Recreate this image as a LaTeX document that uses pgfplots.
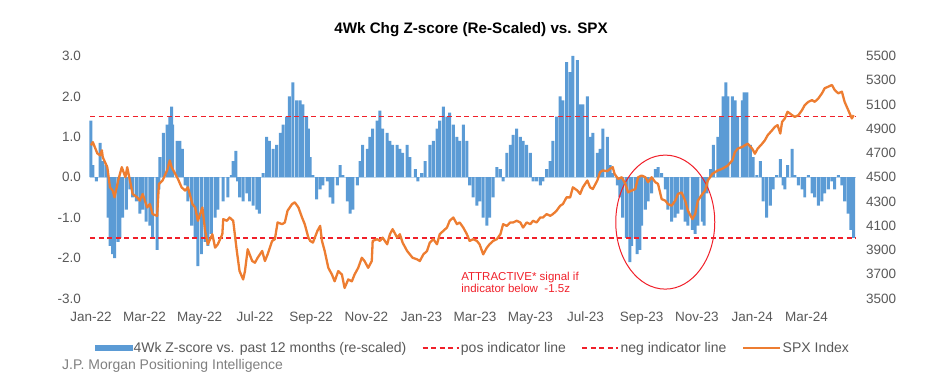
\documentclass[border=0pt]{standalone}
\usepackage{fontspec}
\setmainfont{Liberation Sans}
\usepackage{pgfplots}
\pgfplotsset{compat=1.18}
\usepackage{pgfplotstable}
\definecolor{zblue}{HTML}{5B9BD5}
\definecolor{spxorange}{HTML}{ED7D31}
\definecolor{indred}{HTML}{F0202A}
\definecolor{txtgray}{HTML}{595959}
\definecolor{srcgray}{HTML}{7F7F7F}
\pgfplotsset{
  barlegend/.style={legend image code/.code={\fill[zblue] (0pt,-2.6pt) rectangle (37pt,2.6pt);}},
  dashlegend/.style={legend image code/.code={\draw[color=indred, line width=1.6pt, dash pattern=on 5pt off 3.5pt] (0pt,0pt) -- (36pt,0pt);}},
  spxlegend/.style={legend image code/.code={\draw[color=spxorange, line width=2.3pt] (0pt,0pt) -- (37pt,0pt);}},
}

\pgfplotstableread{
d z
0 1.4
2 0.3
6 -0.1
10 0.85
13 0.4
17 0.3
19 -1.0
21 -1.7
24 -1.9
26 -2.0
30 -1.6
32 -1.5
35 -1.0
39 -0.8
43 -0.3
46 -0.5
50 -0.6
54 -0.9
57 -0.8
61 -1.1
65 -1.2
68 -1.5
73 -1.8
75 -0.3
76 0.5
80 1.1
84 1.3
87 1.5
89 1.75
90 1.3
95 0.9
98 0.9
101 0.7
104 -0.2
107 -0.6
111 -1.2
115 -1.5
118 -2.2
122 -1.9
126 -1.6
129 -1.7
133 -1.4
137 -1.0
140 -0.8
146 -0.6
151 -0.5
155 0.05
157 0.4
160 0.65
162 -0.1
164 -0.5
168 -0.6
172 -0.4
175 -0.6
179 -0.7
183 -0.8
186 -0.9
190 0.1
194 1.0
197 0.9
201 0.7
205 0.8
209 1.1
212 1.3
216 1.5
219 2.0
223 2.35
227 1.9
231 1.9
234 1.8
238 1.5
240 1.2
242 0.5
245 0.05
249 -0.55
253 -0.3
256 -0.2
261 -0.1
264 -0.5
267 -0.65
272 -0.2
275 0.3
278 0.05
283 -0.6
286 -0.9
289 -0.8
294 -0.2
297 0.4
300 0.8
305 0.7
308 1.0
311 1.2
316 1.4
319 1.65
322 1.2
327 1.1
330 0.9
333 0.8
338 0.8
341 0.7
344 0.6
349 0.8
352 0.5
358 0.2
361 -0.1
365 0.1
369 0.4
374 0.8
378 0.9
382 1.2
385 1.4
389 1.75
393 1.5
396 1.6
400 1.3
404 1.0
407 0.9
411 1.3
415 0.9
418 -0.2
422 -0.5
426 -0.7
429 -0.6
433 -1.0
437 -1.2
440 -1.0
444 -0.5
448 0.25
452 0.2
455 -0.1
459 0.6
463 0.8
466 1.05
470 1.2
474 1.0
477 0.9
481 0.8
485 0.6
488 -0.1
492 -0.1
496 -0.2
499 -0.1
503 0.2
507 0.4
510 0.9
514 1.5
518 2.0
521 1.9
525 2.85
529 2.6
532 3.0
537 2.9
540 1.8
543 1.8
548 2.0
551 1.0
554 1.1
559 0.6
562 0.7
565 1.2
570 1.0
573 0.3
576 0.1
581 -0.2
584 -0.5
587 -1.0
591 -1.5
595 -2.1
597 -1.7
601 -1.5
603 -1.9
606 -1.8
608 -1.2
612 -0.8
615 -0.6
619 -0.4
623 0.2
626 0.25
630 0.1
634 -0.3
637 -0.8
641 -1.1
645 -1.0
648 -0.9
652 -0.8
656 -1.1
659 -1.2
664 -1.3
667 -1.4
670 -1.2
675 -1.1
677 -1.2
680 -0.4
684 0.2
687 0.8
692 1.0
695 1.5
698 2.0
701 2.35
703 2.0
708 2.0
711 1.9
714 1.5
719 1.9
721 2.1
724 2.1
728 0.8
731 0.5
735 0.05
739 0.4
742 -0.6
746 -1.0
750 -0.7
753 -0.3
757 0.05
761 0.45
764 -0.2
766 -0.3
769 0.3
774 0.7
777 0.05
781 -0.2
785 -0.3
788 -0.5
792 0.05
796 -0.4
799 -0.5
803 -0.7
807 -0.6
810 -0.4
814 -0.3
818 -0.1
821 -0.3
825 0.05
829 -0.2
832 -0.6
836 -0.9
839 -1.3
842 -1.5
}\zdata

\pgfplotstableread{
d s
0 4763
2 4790
7 4697
10 4680
12 4722
13 4665
18 4583
21 4417
24 4390
26 4334
30 4473
34 4583
38 4500
40 4583
43 4473
46 4362
51 4334
54 4307
57 4362
62 4251
65 4279
68 4196
73 4182
75 4445
79 4473
84 4556
87 4639
89 4583
93 4528
96 4486
100 4417
104 4390
107 4417
112 4279
115 4251
118 4141
123 4251
126 4058
129 3947
134 4030
137 3919
140 3947
145 4030
146 4155
150 4141
153 4168
157 4141
161 3892
164 3726
168 3657
170 3726
173 3906
178 3809
181 3795
184 3836
189 3892
192 3809
195 3864
200 3975
203 3989
206 4127
211 4113
214 4127
217 4224
222 4279
225 4293
229 4251
233 4168
236 4113
240 4002
242 3975
245 3961
250 4058
253 4099
255 3975
258 3892
262 3753
266 3698
269 3642
273 3726
277 3698
280 3587
284 3657
288 3642
291 3698
295 3753
299 3836
302 3809
306 3753
310 3809
311 3975
316 3989
319 3975
322 4002
327 3947
330 4030
333 4072
338 4002
341 4030
344 3961
349 3892
352 3864
355 3836
360 3823
363 3809
367 3864
371 3892
374 3961
378 3989
382 3947
385 4030
389 4058
393 4085
396 4141
400 4168
404 4113
407 4127
411 4085
415 4030
418 3975
422 3989
426 3975
429 3947
433 3864
437 3919
440 3947
444 3975
448 3989
452 4030
455 4113
459 4099
463 4127
466 4127
470 4141
474 4127
477 4085
481 4127
485 4113
488 4141
492 4127
496 4168
499 4168
503 4196
507 4182
510 4196
514 4224
518 4265
521 4279
525 4334
529 4334
532 4417
537 4390
540 4362
543 4417
548 4473
551 4417
554 4403
559 4473
562 4542
565 4556
570 4550
573 4570
576 4583
578 4528
582 4486
586 4500
590 4445
593 4375
597 4390
601 4403
604 4500
608 4514
612 4500
615 4459
619 4500
623 4459
626 4445
630 4320
634 4307
637 4279
641 4265
645 4307
648 4362
652 4375
656 4307
659 4224
664 4155
667 4196
670 4307
675 4362
678 4390
681 4473
686 4528
689 4542
692 4556
697 4570
700 4583
703 4597
708 4639
711 4708
714 4736
719 4750
722 4764
725 4777
730 4736
733 4694
736 4736
741 4777
744 4805
747 4846
752 4888
755 4915
758 4930
761 4860
763 4957
766 4985
769 5040
774 5012
777 4998
781 5012
785 5054
788 5095
792 5122
796 5136
799 5122
803 5150
807 5192
810 5234
814 5247
818 5261
821 5220
825 5192
829 5206
832 5122
836 5054
840 4985
842 5012
}\spxdata

\begin{document}
\begin{tikzpicture}
\path[use as bounding box] (0,0) rectangle (941pt,379pt);
\begin{axis}[
  at={(88pt,80.5pt)}, anchor=south west,
  scale only axis, width=769pt, height=242.5pt,
  xmin=-3.3, xmax=845.7, ymin=-3, ymax=3,
  axis line style={draw=none}, major tick length=0pt,
  xtick={0,59,120,181,243,304,365,424,485,546,608,669,730,790},
  xticklabels={Jan-22,Mar-22,May-22,Jul-22,Sep-22,Nov-22,Jan-23,Mar-23,May-23,Jul-23,Sep-23,Nov-23,Jan-24,Mar-24},
  ytick={-3,-2,-1,0,1,2,3},
  yticklabels={-3.0,-2.0,-1.0,0.0,1.0,2.0,3.0},
  tick label style={font=\fontsize{13.5}{15}\selectfont, text=txtgray},
  yticklabel style={xshift=-3.5pt},
  xticklabel style={yshift=-10pt},
  clip=false,
]
\addplot[forget plot, zblue!40, line width=0.8pt] coordinates {(-1,0) (845,0)};
\addplot[ybar, bar width=3.3, fill=zblue, draw=none] table[x=d,y=z]{\zdata};
\addplot[indred, line width=1.6pt, dash pattern=on 5pt off 3.5pt] coordinates {(-1,1.5) (845,1.5)};
\addplot[indred, line width=1.6pt, dash pattern=on 5pt off 3.5pt] coordinates {(-1,-1.5) (845,-1.5)};
\draw[indred, line width=1pt] (axis cs:634,-1.11) ellipse [x radius=49.5pt, y radius=67pt];
\node[anchor=west, align=left, text=indred, font=\fontsize{11.5}{12.5}\selectfont] at (axis cs:405,-2.6) {ATTRACTIVE* signal if\\indicator below\ \ -1.5z};
\end{axis}
\begin{axis}[
  at={(88pt,80.5pt)}, anchor=south west,
  scale only axis, width=769pt, height=242.5pt,
  xmin=-3.3, xmax=845.7, ymin=3500, ymax=5500,
  axis line style={draw=none}, major tick length=0pt,
  xtick=\empty,
  ytick={3500,3700,3900,4100,4300,4500,4700,4900,5100,5300,5500},
  yticklabels={3500,3700,3900,4100,4300,4500,4700,4900,5100,5300,5500},
  yticklabel pos=right,
  tick label style={font=\fontsize{13.5}{15}\selectfont, text=txtgray},
  yticklabel style={xshift=5.5pt},
  clip=false,
  legend columns=4,
  legend style={at={(0.5,-0.203)}, anchor=center, draw=none, fill=none,
    font=\fontsize{14}{16}\selectfont,
    /tikz/every even column/.append style={column sep=14pt},
    nodes={inner sep=1.5pt, text=txtgray}},
]
\addlegendimage{zblue, fill=zblue, barlegend}
\addlegendimage{indred, dashlegend}
\addlegendimage{indred, dashlegend}
\addplot[spxorange, line width=2.3pt, line join=round, spxlegend]
  table[x=d,y=s]{\spxdata};
\legend{4Wk Z-score vs. past 12 months (re-scaled),pos indicator line,neg indicator line,SPX Index}
\end{axis}
\node[font=\bfseries\fontsize{15.2}{17}\selectfont] at (471pt,349pt) {4Wk Chg Z-score (Re-Scaled) vs. SPX};
\node[anchor=west, text=srcgray, font=\fontsize{14}{16}\selectfont, inner sep=0pt] at (62pt,13pt) {J.P. Morgan Positioning Intelligence};
\end{tikzpicture}
\end{document}
